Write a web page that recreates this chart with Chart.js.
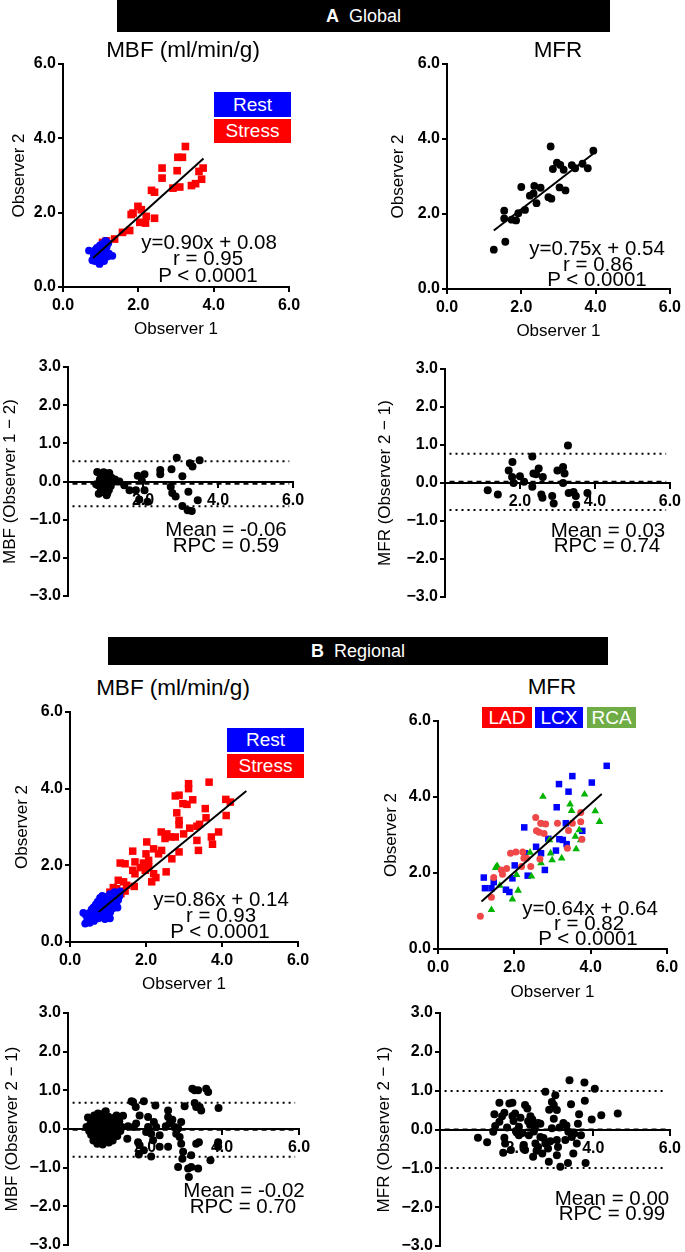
<!DOCTYPE html>
<html>
<head>
<meta charset="utf-8">
<script src="https://cdn.jsdelivr.net/npm/chart.js@4.4.1/dist/chart.umd.min.js"></script>
<style>
  html, body { margin: 0; padding: 0; background: #fff; }
  #page { position: relative; width: 685px; height: 1252px; overflow: hidden; background: #fff;
          font-family: "Liberation Sans", Arial, sans-serif; color: #000; }
  .bar { position: absolute; background: #000; color: #fff; font-size: 18px; text-align: center; }
  .note { position: absolute; white-space: nowrap; transform: translate(-50%, -50%); line-height: 1; }
  .key { position: absolute; color: #fff; text-align: center; font-size: 19px; }
</style>
</head>
<body>
<div id="page">
  <div class="bar" style="left:117px;top:0;width:493px;height:32px;line-height:32px"><b>A</b>&nbsp; Global</div>
  <div class="bar" style="left:108px;top:637px;width:500px;height:28px;line-height:28px"><b>B</b>&nbsp; Regional</div>
</div>
<script>
// ---- Global MBF (observer 2 vs observer 1)
var gRestX = [0.69,0.78,0.82,0.85,0.88,0.90,0.92,0.95,0.97,0.99,1.00,1.02,1.04,1.05,1.07,1.08,1.10,1.12,1.14,1.16,1.18,1.20,1.22,1.31,0.86,0.93,0.98,1.03,1.09,1.13];
var gRestY = [0.98,0.72,0.85,0.70,0.95,1.05,0.78,0.92,0.62,1.10,0.85,0.97,1.15,0.75,1.02,0.88,1.20,0.80,0.95,1.08,0.82,1.18,0.90,0.84,1.00,0.68,1.12,0.90,0.70,1.24];
var gStressX = [3.25,3.05,3.17,2.63,2.63,3.03,3.72,3.61,3.41,3.52,3.68,3.10,2.92,2.35,2.43,1.99,2.08,1.86,1.81,2.21,2.04,2.19,2.43,1.77,1.58,1.37,1.15,1.05];
var gStressY = [3.78,3.49,3.49,3.20,2.93,3.13,3.20,3.11,2.73,2.78,2.90,2.69,2.66,2.60,2.55,2.17,2.08,1.99,1.95,1.90,1.74,1.72,1.85,1.52,1.47,1.29,1.24,1.20];
var gMbfFitX = [0.80, 3.73];
var gMbfFitY = [0.78, 3.46];

// ---- Global MFR
var gMfrX = [1.26,1.57,1.54,1.54,1.74,1.86,1.92,2.00,2.10,2.23,2.35,2.33,2.52,2.41,2.79,2.73,2.81,2.85,2.96,3.05,3.14,3.03,3.19,3.45,3.65,3.79,3.94,3.36];
var gMfrY = [1.05,1.26,2.09,1.88,1.85,1.83,2.02,2.72,2.11,2.49,2.75,2.55,2.70,2.29,3.80,2.45,2.41,3.20,3.37,3.31,3.18,2.71,2.63,3.22,3.34,3.22,3.69,3.30];
var gMfrFitX = [1.26, 4.03];
var gMfrFitY = [1.56, 3.68];

// ---- Global Bland-Altman MBF
var gBaMbfX = [0.78,0.80,0.82,0.85,0.87,0.88,0.90,0.92,0.93,0.95,0.96,0.98,1.00,1.01,1.03,1.04,1.06,1.08,1.09,1.10,1.12,1.14,1.16,1.18,1.20,1.25,1.30,0.84,0.97,1.05,0.75,1.37,
               1.50,1.64,1.86,2.04,1.81,2.04,1.90,2.12,1.97,2.46,2.46,2.76,2.90,3.05,3.25,3.32,3.51,2.74,2.78,2.87,3.05,3.19,3.30,3.21,3.46];
var gBaMbfY = [0.25,-0.10,-0.32,0.05,0.18,-0.20,0.00,0.12,-0.08,0.24,-0.28,0.06,-0.15,0.20,-0.36,0.02,0.14,-0.05,-0.22,0.22,0.08,-0.12,0.10,-0.02,0.04,0.05,0.00,-0.05,0.10,-0.30,-0.07,0.00,
               -0.10,-0.23,0.15,0.19,-0.23,-0.23,-0.47,-0.53,0.02,0.30,0.19,0.32,0.62,0.14,0.48,0.39,0.56,-0.14,-0.30,-0.39,-0.64,-0.75,-0.77,-0.27,-0.49];
var gBaMbfLines = [0.53, -0.06, -0.65]; // upper, mean, lower

// ---- Global Bland-Altman MFR
var gBaMfrX = [1.14,1.41,1.70,1.80,1.79,1.83,2.00,2.11,2.33,2.36,2.43,2.33,2.50,2.61,2.57,2.60,2.86,2.90,3.00,3.15,3.19,3.15,3.28,3.30,3.43,3.49,3.50,3.80];
var gBaMfrY = [-0.19,-0.30,0.33,0.55,0.16,0.00,0.18,0.03,0.70,0.25,0.23,-0.10,0.38,0.16,-0.30,-0.39,-0.34,-0.54,0.33,0.42,0.25,0.00,0.99,-0.26,-0.24,-0.34,-0.57,-0.26];
var gBaMfrLines = [0.77, 0.03, -0.71];

// ---- Regional MBF
var rRestX = [0.40,0.42,0.45,0.48,0.50,0.52,0.55,0.57,0.58,0.60,0.62,0.63,0.65,0.67,0.68,0.70,0.72,0.73,0.75,0.76,0.78,0.79,0.80,0.82,0.84,0.85,0.86,0.88,0.90,0.91,0.93,0.95,0.96,0.98,1.00,1.01,1.03,1.05,1.06,1.08,1.10,1.12,1.13,1.15,1.17,1.18,1.20,1.22,1.25,1.27,1.30,1.32,1.05,0.92,1.25,0.35];
var rRestY = [0.48,0.70,0.55,0.62,0.75,0.50,0.68,0.85,0.60,0.72,0.90,0.55,0.80,0.65,0.98,0.74,0.86,1.05,0.62,0.92,0.80,1.15,0.70,0.95,0.85,1.20,0.66,1.02,0.90,0.78,1.10,0.95,0.72,1.18,0.85,1.05,0.92,1.25,0.78,1.12,0.98,1.22,0.88,1.08,1.30,0.95,1.15,1.02,1.25,1.10,1.20,1.32,0.62,0.60,0.90,0.76];
var rStressX = [3.66,3.12,3.12,2.77,2.87,2.97,3.08,3.23,2.81,2.87,2.87,3.56,3.58,3.15,3.34,3.41,3.91,4.10,4.22,4.11,3.34,3.38,3.72,3.75,2.40,2.55,2.50,2.65,2.77,2.99,2.87,2.02,2.00,2.20,2.33,2.41,2.07,2.68,1.65,1.71,1.93,1.32,1.45,1.65,1.71,1.98,2.20,2.26,2.15,2.53,1.27,1.41,1.49,1.69,1.14,1.23,1.45,1.34,1.05,1.85,2.07,0.86];
var rStressY = [4.17,4.13,4.00,3.81,3.83,3.61,3.59,3.71,3.37,3.17,3.06,3.48,3.24,2.97,3.02,3.07,2.87,3.72,3.65,3.30,2.65,2.39,2.74,2.55,2.87,2.82,2.70,2.74,2.74,2.82,2.35,2.61,2.30,2.43,2.30,2.39,2.13,2.17,2.37,2.09,2.06,2.06,2.04,1.87,1.78,1.87,1.78,1.68,1.57,1.83,1.61,1.57,1.48,1.45,1.42,1.39,1.33,1.26,1.30,1.94,1.96,1.13];
var rMbfFitX = [0.75, 4.64];
var rMbfFitY = [0.78, 3.94];

// ---- Regional MFR by territory
var ladX = [1.11,1.40,1.46,1.66,1.69,1.80,1.90,2.04,2.19,2.22,2.25,2.43,2.56,2.58,2.65,2.69,2.82,2.78,2.67,3.13,3.39,3.42,3.52,3.74,3.74,3.77,2.32];
var ladY = [0.86,1.36,1.88,2.08,1.97,2.12,2.52,2.55,2.17,2.55,2.39,2.17,3.46,3.11,3.07,3.31,3.29,3.04,2.37,3.31,2.65,3.12,3.31,3.59,3.35,2.89,2.39];
var lcxX = [1.20,1.23,1.40,1.46,1.78,1.87,1.95,2.01,2.35,2.26,2.57,2.70,2.80,2.89,3.11,3.17,3.09,3.18,3.27,3.37,3.42,3.52,3.35,4.03,3.78,4.42,2.28];
var lcxY = [1.88,1.60,1.60,1.76,1.56,1.50,1.86,2.20,1.93,3.20,2.69,2.52,2.08,2.90,3.73,4.34,2.59,2.89,2.87,2.76,4.14,4.55,3.31,4.38,3.11,4.82,2.52];
var rcaX = [1.40,1.51,1.55,1.62,1.95,2.10,2.06,2.41,2.45,2.70,2.75,2.75,2.92,2.95,2.99,3.24,3.46,3.50,3.62,3.70,3.74,3.84,4.12,4.23,3.60];
var rcaY = [1.03,2.14,2.19,1.67,1.31,1.54,1.95,2.54,1.91,2.26,3.28,4.01,2.87,2.52,2.34,2.39,3.81,3.64,2.63,3.13,2.87,4.07,3.63,3.35,2.96];
var rMfrFitX = [1.14, 4.29];
var rMfrFitY = [1.25, 4.08];

// ---- Regional Bland-Altman MBF
var rBaMbfX = [0.48,0.52,0.55,0.58,0.60,0.62,0.64,0.66,0.68,0.70,0.71,0.73,0.75,0.76,0.78,0.80,0.81,0.83,0.85,0.86,0.88,0.90,0.91,0.93,0.95,0.96,0.98,1.00,1.01,1.03,1.05,1.06,1.08,1.10,1.12,1.13,1.15,1.18,1.20,1.22,1.25,1.28,1.30,1.33,1.36,1.40,0.72,0.87,0.97,1.02,0.79,0.94,1.16,0.65,1.07,
               0.78,0.98,1.26,1.43,1.56,1.54,1.65,1.69,1.76,1.86,1.77,1.71,1.82,1.86,1.84,1.97,1.97,2.08,2.08,2.03,2.16,2.21,2.16,2.23,2.29,2.27,2.38,2.38,2.60,2.54,2.60,2.60,2.71,2.64,2.77,2.81,2.86,2.90,2.94,2.94,2.99,2.97,2.86,3.03,3.12,3.14,3.20,3.20,3.23,3.29,3.29,3.33,3.38,3.42,3.40,3.33,3.46,3.38,3.59,3.64,3.70,3.91,3.90,3.90];
var rBaMbfY = [0.05,0.30,-0.05,0.12,-0.15,0.20,0.00,-0.30,0.35,0.10,-0.20,0.25,-0.05,-0.38,0.15,0.38,-0.12,0.05,-0.25,0.28,0.00,-0.40,0.18,-0.08,0.42,0.08,-0.30,0.22,-0.15,0.02,0.32,-0.35,0.12,-0.05,0.25,-0.22,0.05,0.15,-0.10,0.30,0.00,-0.18,0.10,0.20,-0.05,0.05,0.02,0.12,-0.02,0.10,-0.28,0.30,-0.30,0.15,-0.12,
               0.40,0.46,0.35,0.34,0.07,-0.25,0.72,0.70,0.57,0.35,0.14,0.05,-0.34,-0.42,-0.66,-0.55,0.72,0.31,0.05,-0.08,-0.12,-0.29,-0.71,0.18,0.05,0.61,-0.16,-0.46,-0.46,0.07,0.48,0.31,0.24,0.14,0.05,-0.12,0.01,-0.21,-0.38,0.18,-0.59,-0.77,-0.98,0.59,-1.02,-1.24,-0.98,-0.68,1.04,1.00,0.67,0.57,1.00,0.57,-0.34,-0.38,0.48,-1.02,1.04,0.96,-0.81,0.54,-0.34,-0.46];
var rBaMbfLines = [0.68, -0.02, -0.72];

// ---- Regional Bland-Altman MFR
var rBaMfrX = [0.99,1.23,1.42,1.55,1.44,1.39,1.55,1.62,1.68,1.65,1.68,1.70,1.81,1.89,1.85,1.89,1.96,1.98,2.06,2.06,2.15,2.19,2.22,2.22,2.28,2.30,2.32,2.36,2.41,2.43,2.48,2.49,2.56,2.62,2.56,2.62,2.67,2.75,2.75,2.82,2.84,2.85,2.92,2.97,2.92,2.97,3.01,3.05,3.05,3.05,3.08,3.14,3.22,3.27,3.35,3.38,3.42,3.34,3.44,3.48,3.57,3.60,3.63,3.68,3.77,3.78,3.80,3.96,4.04,4.21,4.64,
               1.75,2.00,2.35,2.70,3.12,3.50,2.10,2.45,2.88,3.30,1.92,2.52];
var rBaMfrY = [-0.21,-0.33,0.39,0.69,0.09,-0.06,0.20,0.34,0.43,-0.60,-0.21,-0.36,0.67,0.69,-0.53,0.35,0.41,-0.04,0.07,-0.15,-0.09,-0.40,-0.53,0.63,0.54,0.21,-0.15,0.34,0.26,-0.70,0.07,-0.36,0.17,0.15,-0.45,-0.19,-0.62,0.97,-0.36,-0.49,-0.83,0.51,0.71,0.63,0.03,0.28,0.88,0.50,-0.27,-0.66,-0.45,-0.96,0.17,-0.27,-0.06,1.27,0.65,-0.86,-0.19,-0.62,-0.36,0.15,0.39,-0.15,1.21,0.74,-0.86,0.26,1.05,0.37,0.41,
               0.05,-0.08,0.12,-0.22,0.05,-0.10,0.30,-0.05,-0.30,0.10,0.22,-0.55];
var rBaMfrLines = [0.99, 0.00, -0.99];

var page = document.getElementById('page');
var FONT = '"Liberation Sans", Arial, sans-serif';

function pts(xs, ys) {
  return xs.map(function (x, i) { return { x: x, y: ys[i] }; });
}

function fmt(v) {
  return v < 0 ? '\u2212' + Math.abs(v).toFixed(1) : v.toFixed(1);
}

function fitLine(xs, ys) {
  return { type: 'line', data: pts(xs, ys), borderColor: '#000', borderWidth: 2, pointRadius: 0, showLine: true };
}

// three horizontal lines of a Bland-Altman plot
function baLines(vals) {
  return [
    { type: 'line', data: [{ x: 0.12, y: vals[1] }, { x: 5.9, y: vals[1] }], borderColor: '#000', borderWidth: 2, borderDash: [5, 4], pointRadius: 0 },
    { type: 'line', data: [{ x: 0.12, y: vals[0] }, { x: 5.9, y: vals[0] }], borderColor: '#000', borderWidth: 2, borderDash: [2, 4], pointRadius: 0 },
    { type: 'line', data: [{ x: 0.12, y: vals[2] }, { x: 5.9, y: vals[2] }], borderColor: '#000', borderWidth: 2, borderDash: [2, 4], pointRadius: 0 }
  ];
}

function marks(xs, ys, style, color, r) {
  return { data: pts(xs, ys), pointStyle: style, backgroundColor: color, borderWidth: 0, pointRadius: r };
}

// g: ax (pixel of x=0), x6, yt (top pixel), yb (bottom pixel), tx (y title centre), ty (x title centre), pr (right pad)
function panel(g, ba, yTitle, xTitle, datasets) {
  var left = g.tx - 12;
  var top = g.yt - 12;
  var w = g.x6 - left + g.pr;
  var h = ba ? (g.yb - top + 12) : (g.ty + 12 - top);
  var c = document.createElement('canvas');
  c.width = w; c.height = h;
  c.style.cssText = 'position:absolute;left:' + left + 'px;top:' + top + 'px;width:' + w + 'px;height:' + h + 'px';
  page.appendChild(c);

  var tickFont = { family: FONT, size: 16, weight: 'bold' };
  var titleFont = { family: FONT, size: 17 };
  var gridOpt = { drawOnChartArea: false, drawTicks: true, tickLength: 5, color: '#000', lineWidth: 2 };

  new Chart(c.getContext('2d'), {
    type: 'scatter',
    data: { datasets: datasets },
    options: {
      responsive: false,
      animation: false,
      devicePixelRatio: 1,
      layout: { padding: { top: 12, right: g.pr, bottom: ba ? 12 : 0, left: 0 } },
      plugins: { legend: { display: false }, tooltip: { enabled: false } },
      scales: {
        x: {
          type: 'linear', min: 0, max: 6,
          position: ba ? { y: 0 } : 'bottom',
          afterFit: function (s) { s.height = ba ? 0 : (g.ty + 12 - g.yb); },
          ticks: {
            stepSize: 2, autoSkip: false, maxRotation: 0, color: '#000', font: tickFont, padding: 4,
            callback: function (v) { return (ba && v === 0) ? '' : fmt(v); }
          },
          grid: gridOpt,
          border: { color: '#000', width: 2 },
          title: { display: !!xTitle, text: xTitle, color: '#000', font: titleFont, padding: { top: 0, bottom: 2 } }
        },
        y: {
          type: 'linear', min: ba ? -3 : 0, max: ba ? 3 : 6,
          afterFit: function (s) { s.width = g.ax - left; },
          ticks: { stepSize: ba ? 1 : 2, autoSkip: false, color: '#000', font: tickFont, padding: 2, callback: fmt },
          grid: gridOpt,
          border: { color: '#000', width: 2 },
          title: { display: true, text: yTitle, color: '#000', font: titleFont, padding: { top: 2, bottom: 2 } }
        }
      }
    }
  });
}

function note(x, y, text, size) {
  var d = document.createElement('div');
  d.className = 'note';
  d.style.left = x + 'px';
  d.style.top = y + 'px';
  d.style.fontSize = size + 'px';
  d.textContent = text;
  page.appendChild(d);
}

function key(x, y, w, h, text, color) {
  var d = document.createElement('div');
  d.className = 'key';
  d.style.cssText = 'left:' + x + 'px;top:' + y + 'px;width:' + w + 'px;height:' + h + 'px;line-height:' + h + 'px;background:' + color;
  d.textContent = text;
  page.appendChild(d);
}

// A Global
panel({ ax: 63, x6: 289, yt: 64, yb: 287, tx: 19, ty: 330, pr: 20 }, false, 'Observer 2', 'Observer 1', [
  fitLine(gMbfFitX, gMbfFitY),
  marks(gRestX, gRestY, 'circle', '#0000ff', 3.9),
  marks(gStressX, gStressY, 'rect', '#ff0000', 5.4)
]);
panel({ ax: 447, x6: 673, yt: 64, yb: 289, tx: 398, ty: 332, pr: 12 }, false, 'Observer 2', 'Observer 1', [
  fitLine(gMfrFitX, gMfrFitY),
  marks(gMfrX, gMfrY, 'circle', '#000', 3.9)
]);
panel({ ax: 68, x6: 293, yt: 367, yb: 596, tx: 10, pr: 20 }, true, 'MBF (Observer 1 \u2212 2)', '',
  baLines(gBaMbfLines).concat([marks(gBaMbfX, gBaMbfY, 'circle', '#000', 4)]));
panel({ ax: 445, x6: 672, yt: 369, yb: 597, tx: 385, pr: 13 }, true, 'MFR (Observer 2 \u2212 1)', '',
  baLines(gBaMfrLines).concat([marks(gBaMfrX, gBaMfrY, 'circle', '#000', 4)]));

// B Regional
panel({ ax: 70, x6: 298, yt: 712, yb: 942, tx: 22, ty: 985, pr: 20 }, false, 'Observer 2', 'Observer 1', [
  fitLine(rMbfFitX, rMbfFitY),
  marks(rRestX, rRestY, 'circle', '#0000ff', 3.9),
  marks(rStressX, rStressY, 'rect', '#ff0000', 5.3)
]);
panel({ ax: 438, x6: 667, yt: 721, yb: 949, tx: 391, ty: 993, pr: 18 }, false, 'Observer 2', 'Observer 1', [
  fitLine(rMfrFitX, rMfrFitY),
  marks(ladX, ladY, 'circle', '#f04848', 3.5),
  marks(rcaX, rcaY, 'triangle', '#00b400', 4.4),
  marks(lcxX, lcxY, 'rect', '#0000ff', 4.6)
]);
panel({ ax: 68, x6: 299, yt: 1013, yb: 1245, tx: 12, pr: 20 }, true, 'MBF (Observer 2 \u2212 1)', '',
  baLines(rBaMbfLines).concat([marks(rBaMbfX, rBaMbfY, 'circle', '#000', 4)]));
panel({ ax: 440, x6: 673, yt: 1013, yb: 1246, tx: 384, pr: 12 }, true, 'MFR (Observer 2 \u2212 1)', '',
  baLines(rBaMfrLines).concat([marks(rBaMfrX, rBaMfrY, 'circle', '#000', 4)]));

// panel titles
note(183, 50, 'MBF (ml/min/g)', 22.5);
note(558, 50, 'MFR', 22.5);
note(173, 688, 'MBF (ml/min/g)', 22.5);
note(552, 687, 'MFR', 22.5);

// legends
key(214, 92, 77, 25, 'Rest', '#0000ff');
key(214, 119, 77, 24, 'Stress', '#ff0000');
key(227, 728, 77, 24, 'Rest', '#0000ff');
key(227, 754, 77, 24, 'Stress', '#ff0000');
key(482, 707, 50, 21, 'LAD', '#ff0000');
key(535, 707, 48, 21, 'LCX', '#0000ff');
key(587, 707, 49, 21, 'RCA', '#70ad47');

// statistics
note(209, 242, 'y=0.90x + 0.08', 20.5);
note(208, 258, 'r = 0.95', 20.5);
note(208, 275, 'P < 0.0001', 20.5);
note(597, 248, 'y=0.75x + 0.54', 20.5);
note(598, 264, 'r = 0.86', 20.5);
note(597, 279, 'P < 0.0001', 20.5);
note(226, 529, 'Mean = -0.06', 20.5);
note(226, 545, 'RPC = 0.59', 20.5);
note(608, 530, 'Mean = 0.03', 20.5);
note(607, 545, 'RPC = 0.74', 20.5);
note(221, 899, 'y=0.86x + 0.14', 20.5);
note(221, 915, 'r = 0.93', 20.5);
note(220, 931, 'P < 0.0001', 20.5);
note(590, 908, 'y=0.64x + 0.64', 20.5);
note(589, 923, 'r = 0.82', 20.5);
note(588, 938, 'P < 0.0001', 20.5);
note(244, 1190, 'Mean = -0.02', 20.5);
note(243, 1206, 'RPC = 0.70', 20.5);
note(612, 1198, 'Mean = 0.00', 20.5);
note(612, 1213, 'RPC = 0.99', 20.5);
</script>
</body>
</html>
